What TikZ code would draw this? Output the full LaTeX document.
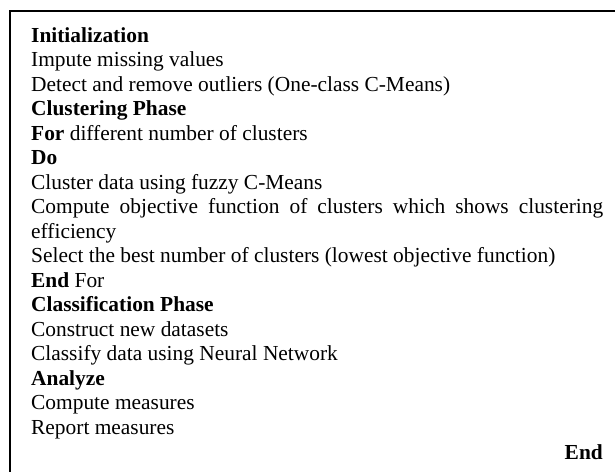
\documentclass[tikz,border=0pt]{standalone}
\usepackage{fontspec}
\setmainfont{Liberation Serif}
\begin{document}
\begin{tikzpicture}[x=1pt,y=-1pt,
  frame/.style={line width=2pt, draw=black},
  body/.style={anchor=base west, inner sep=0pt, text width=572pt, align=justify,
    font=\fontsize{21.4}{24.5}\selectfont},
  endmark/.style={anchor=base east, inner sep=0pt, font=\fontsize{21.4}{24.5}\selectfont\bfseries}]
\useasboundingbox (0,0) rectangle (615,471);
\clip (0,0) rectangle (615,471);
\coordinate (fa) at (10,490);
\coordinate (fb) at (10,11);
\coordinate (fc) at (630,11);
\draw[frame] (fa) -- (fb) -- (fc);
\node[body] (txt) at (31,42) {%
\textbf{Initialization}\par
Impute missing values\par
Detect and remove outliers (One-class C-Means)\par
\textbf{Clustering Phase}\par
\textbf{For} different number of clusters\par
\textbf{Do}\par
Cluster data using fuzzy C-Means\par
Compute objective function of clusters which shows clustering\linebreak efficiency\par
Select the best number of clusters (lowest objective function)\par
\textbf{End} For\par
\textbf{Classification Phase}\par
Construct new datasets\par
Classify data using Neural Network\par
\textbf{Analyze}\par
Compute measures\par
Report measures};
\node[endmark] (endw) at (603,459) {End};
\end{tikzpicture}
\end{document}
